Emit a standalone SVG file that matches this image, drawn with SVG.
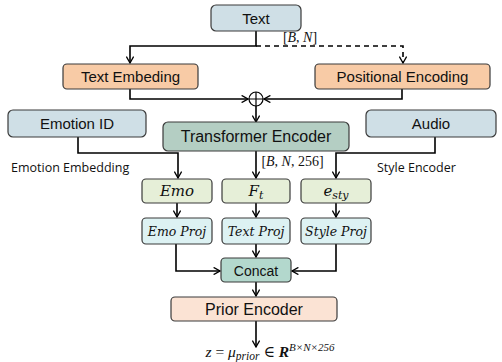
<svg xmlns="http://www.w3.org/2000/svg" width="502" height="362" viewBox="0 0 502 362">
<defs>
<marker id="ah" viewBox="0 0 10 10" refX="9" refY="5" markerWidth="8" markerHeight="8" markerUnits="userSpaceOnUse" orient="auto">
<path d="M1,0.5 L9,5 L1,9.5" fill="none" stroke="#000" stroke-width="1.6"/>
</marker>
</defs>
<style>
.box{stroke:#3a3a3a;stroke-width:1.2}
.blue{fill:#cfdfe6}
.orange{fill:#f8cba6}
.dgreen{fill:#b4cec3}
.lgreen{fill:#e6efd8}
.cyan{fill:#ddf2f3}
.teal{fill:#b3d8cd}
.peach{fill:#fbe3d4}
.t{font-family:"Liberation Sans",Arial,sans-serif;fill:#111;text-anchor:middle}
.m{font-family:"DejaVu Serif","Liberation Serif",serif;font-style:italic;fill:#111;text-anchor:middle}
.f{font-family:"Liberation Serif","DejaVu Serif",serif;fill:#111;text-anchor:middle}
.i{font-style:italic}
.lbl{font-family:"Open Sans","Noto Sans",sans-serif;fill:#111;font-size:12.5px}
.c{fill:none;stroke:#000;stroke-width:1.6}
.d{stroke-dasharray:5,4}
</style>
<g id="connectors">
<path class="c" d="M256,31 V46 H130 V63" marker-end="url(#ah)"/>
<path class="c d" d="M256,46 H403 V63" marker-end="url(#ah)"/>
<path class="c" d="M130,89 V99 H248" marker-end="url(#ah)"/>
<path class="c" d="M402,89 V99 H264" marker-end="url(#ah)"/>
<path class="c" d="M256,106 V122" marker-end="url(#ah)"/>
<path class="c" d="M78,137 V153 H178 V178" marker-end="url(#ah)"/>
<path class="c" d="M256,151 V178" marker-end="url(#ah)"/>
<path class="c" d="M435,137 V153 H336 V178" marker-end="url(#ah)"/>
<path class="c" d="M177,203 V217" marker-end="url(#ah)"/>
<path class="c" d="M256,203 V217" marker-end="url(#ah)"/>
<path class="c" d="M336,203 V217" marker-end="url(#ah)"/>
<path class="c" d="M176,244 V271 H220" marker-end="url(#ah)"/>
<path class="c" d="M256,244 V257" marker-end="url(#ah)"/>
<path class="c" d="M336,244 V271 H292" marker-end="url(#ah)"/>
<path class="c" d="M256,282 V296" marker-end="url(#ah)"/>
<path class="c" d="M256,321 V347" marker-end="url(#ah)"/>
</g>
<g id="plus">
<circle cx="256" cy="99" r="7" fill="#fff" stroke="#000" stroke-width="1.2"/>
<path d="M249,99 H263 M256,92 V106" stroke="#000" stroke-width="1.2"/>
</g>
<g id="text"><rect class="box blue" x="211" y="5" width="90" height="26" rx="5"/><text class="t" x="256" y="24" font-size="15">Text</text></g>
<text class="f" x="300" y="42" font-size="14">[<tspan class="i">B</tspan>, <tspan class="i">N</tspan>]</text>
<g id="textemb"><rect class="box orange" x="63" y="64" width="135" height="25" rx="4"/><text class="t" x="130.5" y="82" font-size="15">Text Embeding</text></g>
<g id="posenc"><rect class="box orange" x="315" y="64" width="175" height="25" rx="4"/><text class="t" x="402.5" y="82" font-size="15">Positional Encoding</text></g>
<g id="emoid"><rect class="box blue" x="8" y="110" width="138" height="27" rx="5"/><text class="t" x="77" y="129" font-size="15">Emotion ID</text></g>
<g id="transformer"><rect class="box dgreen" x="163" y="122" width="186" height="29" rx="5"/><text class="t" x="256" y="142" font-size="16">Transformer Encoder</text></g>
<g id="audio"><rect class="box blue" x="366" y="110" width="130" height="27" rx="5"/><text class="t" x="431" y="129" font-size="15">Audio</text></g>
<text class="lbl" x="11" y="172">Emotion Embedding</text>
<text class="f" x="292.5" y="166" font-size="14">[<tspan class="i">B</tspan>, <tspan class="i">N</tspan>, 256]</text>
<text class="lbl" x="377" y="172">Style Encoder</text>
<g id="emo"><rect class="box lgreen" x="142" y="179" width="70" height="24" rx="4"/><text class="m" x="177" y="196" font-size="15">Emo</text></g>
<g id="ft"><rect class="box lgreen" x="222" y="179" width="68" height="24" rx="4"/><text class="m" x="256" y="196" font-size="15">F<tspan font-size="11" dy="3">t</tspan></text></g>
<g id="esty"><rect class="box lgreen" x="301" y="179" width="70" height="24" rx="4"/><text class="m" x="336" y="196" font-size="15">e<tspan font-size="11" dy="3">sty</tspan></text></g>
<g id="emoproj"><rect class="box cyan" x="142" y="218" width="70" height="26" rx="4"/><text class="m" x="177" y="236" font-size="12.5">Emo Proj</text></g>
<g id="textproj"><rect class="box cyan" x="222" y="218" width="68" height="26" rx="4"/><text class="m" x="256" y="236" font-size="12.5">Text Proj</text></g>
<g id="styleproj"><rect class="box cyan" x="301" y="218" width="70" height="26" rx="4"/><text class="m" x="336" y="236" font-size="12.5">Style Proj</text></g>
<g id="concat"><rect class="box teal" x="221" y="258" width="70" height="24" rx="4"/><text class="t" x="256" y="276" font-size="14">Concat</text></g>
<g id="prior"><rect class="box peach" x="171" y="297" width="166" height="24" rx="4"/><text class="t" x="254" y="315" font-size="16">Prior Encoder</text></g>
<text class="f" x="270" y="357" font-size="15.5"><tspan class="i">z</tspan> = <tspan class="i">μ</tspan><tspan class="i" font-size="11.5" dy="3">prior</tspan><tspan dy="-3"> ∈ </tspan><tspan font-weight="bold" font-style="italic">R</tspan><tspan class="i" font-size="11" dy="-6">B×N×256</tspan></text>
</svg>
